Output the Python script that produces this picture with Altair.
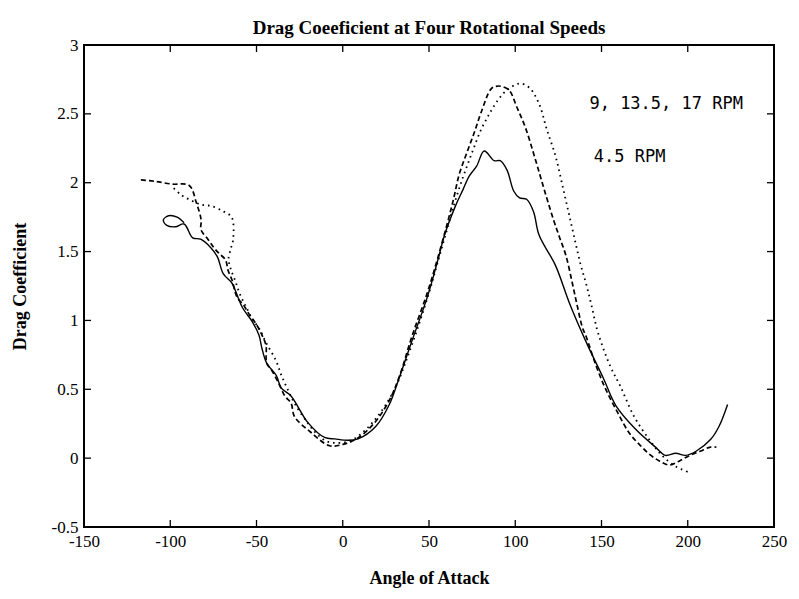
import altair as alt
import pandas as pd

# ---- data ----
# 4.5 RPM (solid)
solid_x = [-92, -96, -101, -104, -102, -97, -92, -87, -82.4, -76.6, -72.6, -69.3, -64.2, -61.4, -58, -52.4, -48.5,
           -46.9, -44.1, -38.5, -35.7, -29.9, -20.3, -10.5, -4.6, 3, 8.9, 19.1, 27, 32.1, 39.8, 49.3, 55.8, 59, 65.3,
           69.7, 73.4, 77.6, 82, 87.8, 91.3, 95.3, 99.1, 102.5, 106.6, 110.6, 113.8, 123.3, 131.6, 141.6, 151.1,
           158.4, 169.8, 181.3, 187, 193, 198.8, 204.8, 213.2, 218.1, 223.1]
solid_y = [1.71, 1.75, 1.76, 1.73, 1.69, 1.68, 1.70, 1.60, 1.59, 1.53, 1.46, 1.34, 1.27, 1.19, 1.09, 0.99, 0.89,
           0.80, 0.69, 0.60, 0.51, 0.45, 0.26, 0.15, 0.14, 0.13, 0.14, 0.23, 0.39, 0.56, 0.84, 1.18, 1.47, 1.62, 1.83,
           1.95, 2.05, 2.12, 2.23, 2.16, 2.16, 2.09, 1.94, 1.89, 1.88, 1.79, 1.62, 1.40, 1.12, 0.83, 0.58,
           0.38, 0.21, 0.08, 0.02, 0.035, 0.02, 0.05, 0.135, 0.23, 0.39]

# 9 / 13.5 / 17 RPM (dashed)
dash_x = [-117, -109, -99, -89, -85, -82.1, -82.2, -78.2, -74.8, -72, -68, -66.4, -64.1, -62.5, -60.9, -58, -54, -50,
          -46.7, -44.5, -44.1, -41.3, -37.4, -33.5, -30, -27.9, -18.7, -7.6, 0, 8, 18, 27, 33, 40, 49, 55, 60.3, 64.2,
          67.5, 72, 76.4, 80.2, 85.9, 88.8, 91.8, 96.5, 100.9, 105.9, 111.4, 116.8, 122.2, 125.5, 129.4, 133.1, 135.7,
          138.9, 141.2, 146.6, 152.1, 159.4, 166.2, 171.9, 177.6, 183.5, 189.3, 195.2, 201.2, 207.2, 213.1, 216.6]
dash_y = [2.02, 2.01, 1.99, 1.98, 1.86, 1.73, 1.66, 1.59, 1.53, 1.49, 1.44, 1.36, 1.29, 1.21, 1.16, 1.12, 1.04, 0.97,
          0.89, 0.82, 0.69, 0.64, 0.55, 0.45, 0.40, 0.30, 0.19, 0.09, 0.10, 0.14, 0.25, 0.42, 0.60, 0.88, 1.20, 1.45,
          1.69, 1.88, 2.06, 2.22, 2.37, 2.51, 2.68, 2.70, 2.70, 2.67, 2.55, 2.40, 2.18, 1.95, 1.73, 1.61, 1.47, 1.27,
          1.12, 0.95, 0.88, 0.68, 0.51, 0.33, 0.18, 0.10, 0.03, -0.02, -0.05, -0.02, 0.02, 0.05, 0.08, 0.08]

# 9 / 13.5 / 17 RPM (dotted)
dot_x = [-98, -93.5, -87.7, -81.9, -76, -69, -64.4, -63.5, -64.9, -66.2, -65.1, -62.4, -59.6, -55.7, -52.4, -48.4,
         -44.5, -38.8, -35.5, -31.6, -27.6, -20, -14.6, -8.8, -2.9, 3, 10, 20, 30, 40, 50, 55, 60, 65, 70, 75, 80,
         85, 90, 95, 102.4, 108.2, 113.9, 118.2, 123.2, 127, 131, 135, 138, 141, 144, 148, 155, 161, 169, 178, 185,
         193, 200]
dot_y = [1.96, 1.91, 1.87, 1.84, 1.83, 1.79, 1.75, 1.59, 1.52, 1.45, 1.38, 1.29, 1.19, 1.09, 1.01, 0.94,
         0.84, 0.71, 0.60, 0.49, 0.39, 0.25, 0.17, 0.12, 0.11, 0.12, 0.17, 0.30, 0.50, 0.82, 1.20, 1.42, 1.64, 1.86,
         2.05, 2.22, 2.38, 2.50, 2.60, 2.67, 2.72, 2.69, 2.57, 2.39, 2.20, 2.00, 1.78, 1.56, 1.40, 1.27, 1.12, 0.91,
         0.67, 0.52, 0.30, 0.13, 0.02, -0.06, -0.10]

x_ticks = [-150, -100, -50, 0, 50, 100, 150, 200, 250]
y_ticks = [-0.5, 0, 0.5, 1, 1.5, 2, 2.5, 3]

note_text = ["9, 13.5, 17 RPM", "4.5 RPM"]
note_x = [143, 145.5]
note_y = [2.57, 2.19]

# ---- tables ----
def table(xs, ys):
    return pd.DataFrame({"i": list(range(len(xs))), "angle": xs, "cd": ys})

df_solid = table(solid_x, solid_y)
df_dash = table(dash_x, dash_y)
df_dot = table(dot_x, dot_y)
df_notes = pd.DataFrame({"t": note_text, "angle": note_x, "cd": note_y})
df_xt = pd.DataFrame({"angle": x_ticks[1:-1]})
df_yt = pd.DataFrame({"cd": y_ticks[1:-1]})

W, H = 690, 482
SERIF = "Liberation Serif"

xsc = alt.Scale(domain=[-150, 250], nice=False, zero=False)
ysc = alt.Scale(domain=[-0.5, 3], nice=False, zero=False)

x_axis = alt.Axis(values=x_ticks, labelExpr="'' + datum.value", ticks=False, domain=False, grid=False,
                  title="Angle of Attack", labelPadding=6, titlePadding=20, labelFlush=False,
                  labelFont=SERIF, labelFontSize=17, labelColor="black",
                  titleFont=SERIF, titleFontSize=18, titleFontWeight="bold", titleColor="black")
y_axis = alt.Axis(values=y_ticks, labelExpr="'' + datum.value", ticks=False, domain=False, grid=False,
                  title="Drag Coefficient", labelPadding=6, titlePadding=22, labelFlush=False,
                  labelFont=SERIF, labelFontSize=17, labelColor="black",
                  titleFont=SERIF, titleFontSize=18, titleFontWeight="bold", titleColor="black")

X = alt.X("angle:Q", scale=xsc, axis=x_axis)
Y = alt.Y("cd:Q", scale=ysc, axis=y_axis)

solid = alt.Chart(df_solid).mark_line(color="black", strokeWidth=1.4, interpolate="catmull-rom").encode(
    x=X, y=Y, order="i:Q")
dashed = alt.Chart(df_dash).mark_line(color="black", strokeWidth=1.7, strokeDash=[5, 3],
                                      interpolate="catmull-rom").encode(x=X, y=Y, order="i:Q")
dotted = alt.Chart(df_dot).mark_line(color="black", strokeWidth=1.8, strokeDash=[1.6, 4],
                                     interpolate="catmull-rom").encode(x=X, y=Y, order="i:Q")

notes = alt.Chart(df_notes).mark_text(align="left", baseline="middle", font="DejaVu Sans Mono",
                                      fontSize=17, color="black").encode(x=X, y=Y, text="t:N")

tb = alt.Chart(df_xt).mark_rule(color="black", strokeWidth=1.3).encode(
    x=X, y=alt.value(H), y2=alt.value(H - 7))
tt = alt.Chart(df_xt).mark_rule(color="black", strokeWidth=1.3).encode(
    x=X, y=alt.value(0), y2=alt.value(7))
tl = alt.Chart(df_yt).mark_rule(color="black", strokeWidth=1.3).encode(
    y=Y, x=alt.value(0), x2=alt.value(7))
tr = alt.Chart(df_yt).mark_rule(color="black", strokeWidth=1.3).encode(
    y=Y, x=alt.value(W - 7), x2=alt.value(W))

chart = alt.layer(solid, dashed, dotted, notes, tb, tt, tl, tr).properties(
    width=W, height=H,
    background="white",
    title=alt.TitleParams("Drag Coeeficient at Four Rotational Speeds", font=SERIF, fontSize=19,
                          fontWeight="bold", offset=-2, anchor="middle", color="black"),
    padding={"left": 76, "top": 37, "right": 17, "bottom": 62},
    autosize=alt.AutoSizeParams(type="none"),
).configure_view(
    stroke="black", strokeWidth=2
)

chart.save("out.html", embed_options={"renderer": "svg", "actions": False})
